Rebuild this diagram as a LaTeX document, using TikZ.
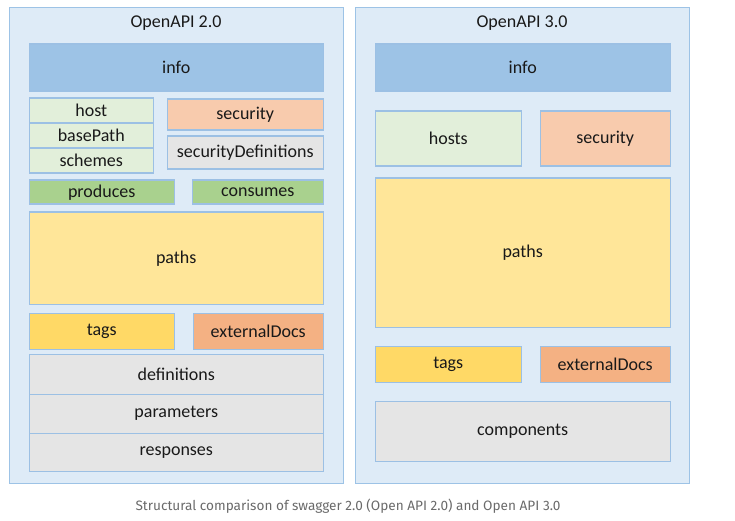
\documentclass[tikz,border=0pt]{standalone}
\usepackage{fontspec}
\setmainfont{Carlito}
\newfontfamily\capfont{Fira Sans}
\usepackage{tikz}

\definecolor{panelfill}{HTML}{DEEBF7}
\definecolor{panelline}{HTML}{9DC3E6}
\definecolor{boxline}{HTML}{9CC0E4}
\definecolor{infofill}{HTML}{9DC3E6}
\definecolor{hostfill}{HTML}{E2EFDA}
\definecolor{secfill}{HTML}{F8CBAD}
\definecolor{greyfill}{HTML}{E5E5E5}
\definecolor{mimefill}{HTML}{A9D18E}
\definecolor{pathfill}{HTML}{FFE699}
\definecolor{tagfill}{HTML}{FFD966}
\definecolor{docfill}{HTML}{F4B183}
\definecolor{captext}{HTML}{6A6A6A}

\tikzset{
	panel/.style={draw=panelline, fill=panelfill, line width=1pt, anchor=north west, inner sep=0pt},
	part/.style={draw=boxline, line width=1.5pt, anchor=north west, inner sep=0pt, font=\fontsize{18}{20}\selectfont, text=black!90},
	title/.style={font=\fontsize{18}{20}\selectfont, text=black!90},
}

\begin{document}
\begin{tikzpicture}[x=1pt,y=-1pt]
	\useasboundingbox (0,0) rectangle (735,521);
	
	% panels
	\node[panel, minimum width=334, minimum height=476] (left) at (9,7) {};
	\node[panel, minimum width=334, minimum height=476] (right) at (355,7) {};
	\node[title] (t2) at (176,23) {OpenAPI 2.0};
	\node[title] (t3) at (522,23) {OpenAPI 3.0};
	
	% OpenAPI 2.0
	\node[part, fill=infofill, minimum width=294, minimum height=47] (info2) at (28.5,43.5) {info};
	\node[part, fill=hostfill, minimum width=124, minimum height=25] (host) at (28.5,97.5) {host};
	\node[part, fill=hostfill, minimum width=124, minimum height=25] (basepath) at (28.5,122.5) {basePath};
	\node[part, fill=hostfill, minimum width=124, minimum height=25] (schemes) at (28.5,147.5) {schemes};
	\node[part, fill=secfill, minimum width=156, minimum height=31] (sec2) at (166.5,98.5) {security};
	\node[part, fill=greyfill, minimum width=156, minimum height=33] (secdefs) at (166.5,135.5) {securityDefinitions};
	\node[part, fill=mimefill, minimum width=145, minimum height=24] (produces) at (28.5,179.5) {produces};
	\node[part, fill=mimefill, minimum width=131, minimum height=24] (consumes) at (191.5,179.5) {consumes};
	\node[part, fill=pathfill, minimum width=294, minimum height=92] (paths2) at (28.5,211.5) {paths};
	\node[part, fill=tagfill, minimum width=145, minimum height=36] (tags2) at (28.5,312.5) {tags};
	\node[part, fill=docfill, minimum width=130, minimum height=36] (docs2) at (192.5,312.5) {externalDocs};
	\node[part, fill=greyfill, minimum width=294, minimum height=40] (defs) at (28.5,353.5) {definitions};
	\node[part, fill=greyfill, minimum width=294, minimum height=39] (params) at (28.5,393.5) {parameters};
	\node[part, fill=greyfill, minimum width=294, minimum height=38] (resps) at (28.5,432.5) {responses};
	
	% OpenAPI 3.0
	\node[part, fill=infofill, minimum width=295, minimum height=47] (info3) at (374.5,43.5) {info};
	\node[part, fill=hostfill, minimum width=146, minimum height=55] (hosts) at (374.5,110.5) {hosts};
	\node[part, fill=secfill, minimum width=130, minimum height=55] (sec3) at (539.5,110.5) {security};
	\node[part, fill=pathfill, minimum width=295, minimum height=149] (paths3) at (374.5,177.5) {paths};
	\node[part, fill=tagfill, minimum width=146, minimum height=36] (tags3) at (374.5,345.5) {tags};
	\node[part, fill=docfill, minimum width=130, minimum height=36] (docs3) at (539.5,345.5) {externalDocs};
	\node[part, fill=greyfill, minimum width=295, minimum height=60] (comps) at (374.5,400.5) {components};
	
	% caption
	\node[font=\capfont\fontsize{13.6}{16}\selectfont, text=captext] (cap) at (348,506) {Structural comparison of swagger 2.0 (Open API 2.0) and Open API 3.0};
\end{tikzpicture}
\end{document}
